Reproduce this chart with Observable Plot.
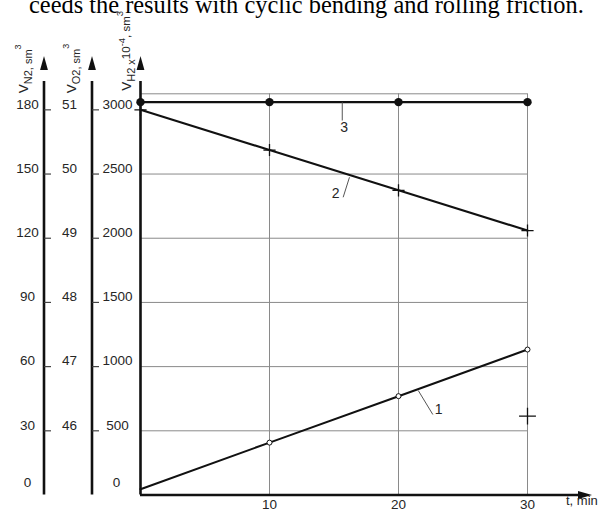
<!DOCTYPE html>
<html><head><meta charset="utf-8">
<script src="https://cdn.jsdelivr.net/npm/d3@7"></script>
<script src="https://cdn.jsdelivr.net/npm/@observablehq/plot@0.6"></script>
<style>
body{margin:0;background:#fff;}
#head{position:relative;height:20px;overflow:hidden;width:600px;}
#head span{position:absolute;left:29px;top:-7px;font:24.4px/24px "Liberation Serif","Times New Roman",serif;white-space:nowrap;color:#000;}
#chart svg{display:block;}
</style></head><body>
<div id="head"><span>ceeds the results with cyclic bending and rolling friction.</span></div>
<div id="chart"></div>
<script>
// ---- data ----
const tMin = [0, 10, 20, 30];
const curve1H2 = [45, 408, 770, 1133];
const curve2H2 = [3000, 2687, 2373, 2060];
const curve3H2 = [3060, 3060, 3060, 3060];
const extraT = [30];
const extraH2 = [614];
const h2Ticks = [0, 500, 1000, 1500, 2000, 2500, 3000];
const n2TickLabels = ["0", "30", "60", "90", "120", "150", "180"];
const o2TickLabels = ["", "46", "47", "48", "49", "50", "51"];
const xTickValues = [10, 20, 30];
const curveNames = ["1", "2", "3"];

// ---- layout ----
const W = 600, H = 491;
const ML = 140, MR = 73, MT = 73.3, MB = 16.5;
const xDomain = [0, 30], yDomain = [0, 3125];
const pxPerMin = (W - ML - MR) / (xDomain[1] - xDomain[0]);
const xFromPx = p => (p - ML) / pxPerMin;
const n2AxisX = xFromPx(43.5), o2AxisX = xFromPx(91.5);
const tickLen = 7.5 / pxPerMin;
const axisTop = 3420;       // arrow tip of vertical axes
const xAxisEnd = 35;        // arrow tip of the time axis

const grid = "#8a8a8a", ink = "#111", labelInk = "#262626";
const FONT = '"Liberation Sans", Arial, sans-serif';

const toRows = vals => tMin.map((t, i) => ({t, v: vals[i]}));
const c1 = toRows(curve1H2), c2 = toRows(curve2H2), c3 = toRows(curve3H2);
const extra = extraT.map((t, i) => ({t, v: extraH2[i]}));
const tickRows = h2Ticks.map((v, i) => ({v, n2: n2TickLabels[i], o2: o2TickLabels[i]}));

const arrowUp = {draw(ctx, size){const r = Math.sqrt(size / Math.PI); ctx.moveTo(0, -r); ctx.lineTo(0.56 * r, r); ctx.lineTo(-0.56 * r, r); ctx.closePath();}};
const arrowRight = {draw(ctx, size){const r = Math.sqrt(size / Math.PI); ctx.moveTo(r, 0); ctx.lineTo(-r, 0.56 * r); ctx.lineTo(-r, -0.56 * r); ctx.closePath();}};

// annotation leader lines and labels (curve numbers)
const leaders = [
  {name: curveNames[2], x1: 15.64, y1: 3059, x2: 15.64, y2: 2917, lx: 15.78, ly: 2862},
  {name: curveNames[1], x1: 16.2, y1: 2475, x2: 15.71, y2: 2319, lx: 15.12, ly: 2346},
  {name: curveNames[0], x1: 21.53, y1: 814, x2: 22.66, y2: 627, lx: 23.12, ly: 666}
];

const titles = {
  "§N2": [["V", 0, 13.5], ["N2, sm", 4, 11], ["3", -7, 9]],
  "§O2": [["V", 0, 13.5], ["O2, sm", 4, 11], ["3", -7, 9]],
  "§H2": [["V", 0, 13.5], ["H2 x", 4, 11], ["10", -1, 11.5], ["-4", -6.5, 9.5], [", sm", -1, 11.5], ["3", -8, 9.5]]
};

const yAxes = [
  {x: n2AxisX}, {x: o2AxisX}
];

const plot = Plot.plot({
  width: W, height: H,
  marginLeft: ML, marginRight: MR, marginTop: MT, marginBottom: MB,
  x: {domain: xDomain, axis: null},
  y: {domain: yDomain, axis: null},
  style: {fontFamily: FONT, fontSize: "13.5px", background: "#fff", overflow: "visible"},
  marks: [
    // grid
    Plot.ruleX(xTickValues, {x: d => d, y1: yDomain[0], y2: yDomain[1], stroke: grid, strokeWidth: 1}),
    Plot.ruleY(h2Ticks.filter(v => v > 0 && v < 3000), {y: d => d, x1: xDomain[0], x2: xDomain[1], stroke: grid, strokeWidth: 1}),
    Plot.ruleY([yDomain[1]], {y: d => d, x1: xDomain[0], x2: xDomain[1], stroke: grid, strokeWidth: 1}),
    // auxiliary axes (N2, O2) and main H2 axis
    Plot.ruleX(yAxes, {x: "x", y1: 0, y2: axisTop - 200, stroke: ink, strokeWidth: 2.6}),
    Plot.ruleX([0], {x: d => d, y1: 0, y2: axisTop - 200, stroke: ink, strokeWidth: 2.6}),
    Plot.dot([...yAxes, {x: 0}], {x: "x", y: () => axisTop, symbol: arrowUp, r: 7, dy: 7, fill: ink, stroke: null}),
    Plot.ruleY([0], {y: d => d, x1: 0, x2: xAxisEnd - 1, stroke: ink, strokeWidth: 2.6}),
    Plot.dot([xAxisEnd], {x: d => d, y: () => 0, symbol: arrowRight, r: 7, dx: -7, fill: ink, stroke: null}),
    // auxiliary ticks
    Plot.ruleY(tickRows.filter(d => d.v > 0), {y: "v", x1: () => n2AxisX + 0.05, x2: () => n2AxisX + tickLen, stroke: "#444", strokeWidth: 1.2}),
    Plot.ruleY(tickRows.filter(d => d.v > 0), {y: "v", x1: () => o2AxisX + 0.05, x2: () => o2AxisX + tickLen, stroke: "#444", strokeWidth: 1.2}),
    // tick labels
    Plot.text(tickRows.filter(d => d.v > 0), {x: () => xFromPx(27), y: "v", text: "n2", dy: -5.5, fill: labelInk, textAnchor: "middle"}),
    Plot.text(tickRows.filter(d => d.v > 0), {x: () => xFromPx(69), y: "v", text: "o2", dy: -5.5, fill: labelInk, textAnchor: "middle"}),
    Plot.text(tickRows.filter(d => d.v > 0), {x: () => xFromPx(117), y: "v", text: d => String(d.v), dy: -5.5, fill: labelInk, textAnchor: "middle"}),
    Plot.text(tickRows.filter(d => d.v === 0), {x: () => xFromPx(27), y: "v", text: "n2", dy: -12, fill: labelInk, textAnchor: "middle"}),
    Plot.text(tickRows.filter(d => d.v === 0), {x: () => xFromPx(116), y: "v", text: d => String(d.v), dy: -12, fill: labelInk, textAnchor: "middle"}),
    Plot.text(xTickValues, {x: d => d, y: () => 0, text: d => String(d), dy: 10, fill: labelInk, textAnchor: "middle"}),
    Plot.text(["t, min"], {frameAnchor: "bottom-right", text: d => d, dx: 38.5, dy: 9.5, textAnchor: "start", fill: labelInk, fontSize: 13}),
    // axis titles
    Plot.text(["§N2"], {frameAnchor: "top-left", text: d => d, rotate: -90, textAnchor: "start", lineAnchor: "bottom", dx: -113, dy: -0.5, fill: labelInk}),
    Plot.text(["§O2"], {frameAnchor: "top-left", text: d => d, rotate: -90, textAnchor: "start", lineAnchor: "bottom", dx: -64.5, dy: -0.5, fill: labelInk}),
    Plot.text(["§H2"], {frameAnchor: "top-left", text: d => d, rotate: -90, textAnchor: "start", lineAnchor: "bottom", dx: -9.5, dy: -3, fill: labelInk}),
    // curves
    Plot.line(c1, {x: "t", y: "v", stroke: ink, strokeWidth: 2.1}),
    Plot.line(c2, {x: "t", y: "v", stroke: ink, strokeWidth: 2.1}),
    Plot.line(c3, {x: "t", y: "v", stroke: ink, strokeWidth: 2.3}),
    Plot.dot(c1.filter(d => d.t > 0), {x: "t", y: "v", r: 2.5, fill: "#fff", stroke: ink, strokeWidth: 1}),
    Plot.dot(c2, {x: "t", y: "v", symbol: "plus", r: 4, stroke: ink, strokeWidth: 1.3}),
    Plot.dot(c3, {x: "t", y: "v", r: 4.2, fill: ink, stroke: null}),
    Plot.dot(extra, {x: "t", y: "v", symbol: "plus", r: 5.5, stroke: ink, strokeWidth: 1.3}),
    // curve labels
    Plot.link(leaders, {x1: "x1", y1: "y1", x2: "x2", y2: "y2", stroke: "#555", strokeWidth: 1}),
    Plot.text(leaders, {x: "lx", y: "ly", text: "name", fill: labelInk, fontSize: 14})
  ]
});

// turn the axis title placeholders into sub/superscripted text
d3.select(plot).selectAll("text").each(function() {
  const key = this.textContent;
  const parts = titles[key];
  if (!parts) return;
  const t = d3.select(this);
  t.text(null);
  let level = 0;
  for (const [s, lv, fs] of parts) {
    t.append("tspan").attr("dy", lv - level).attr("font-size", fs).text(s);
    level = lv;
  }
});

document.getElementById("chart").append(plot);
</script>
</body></html>
